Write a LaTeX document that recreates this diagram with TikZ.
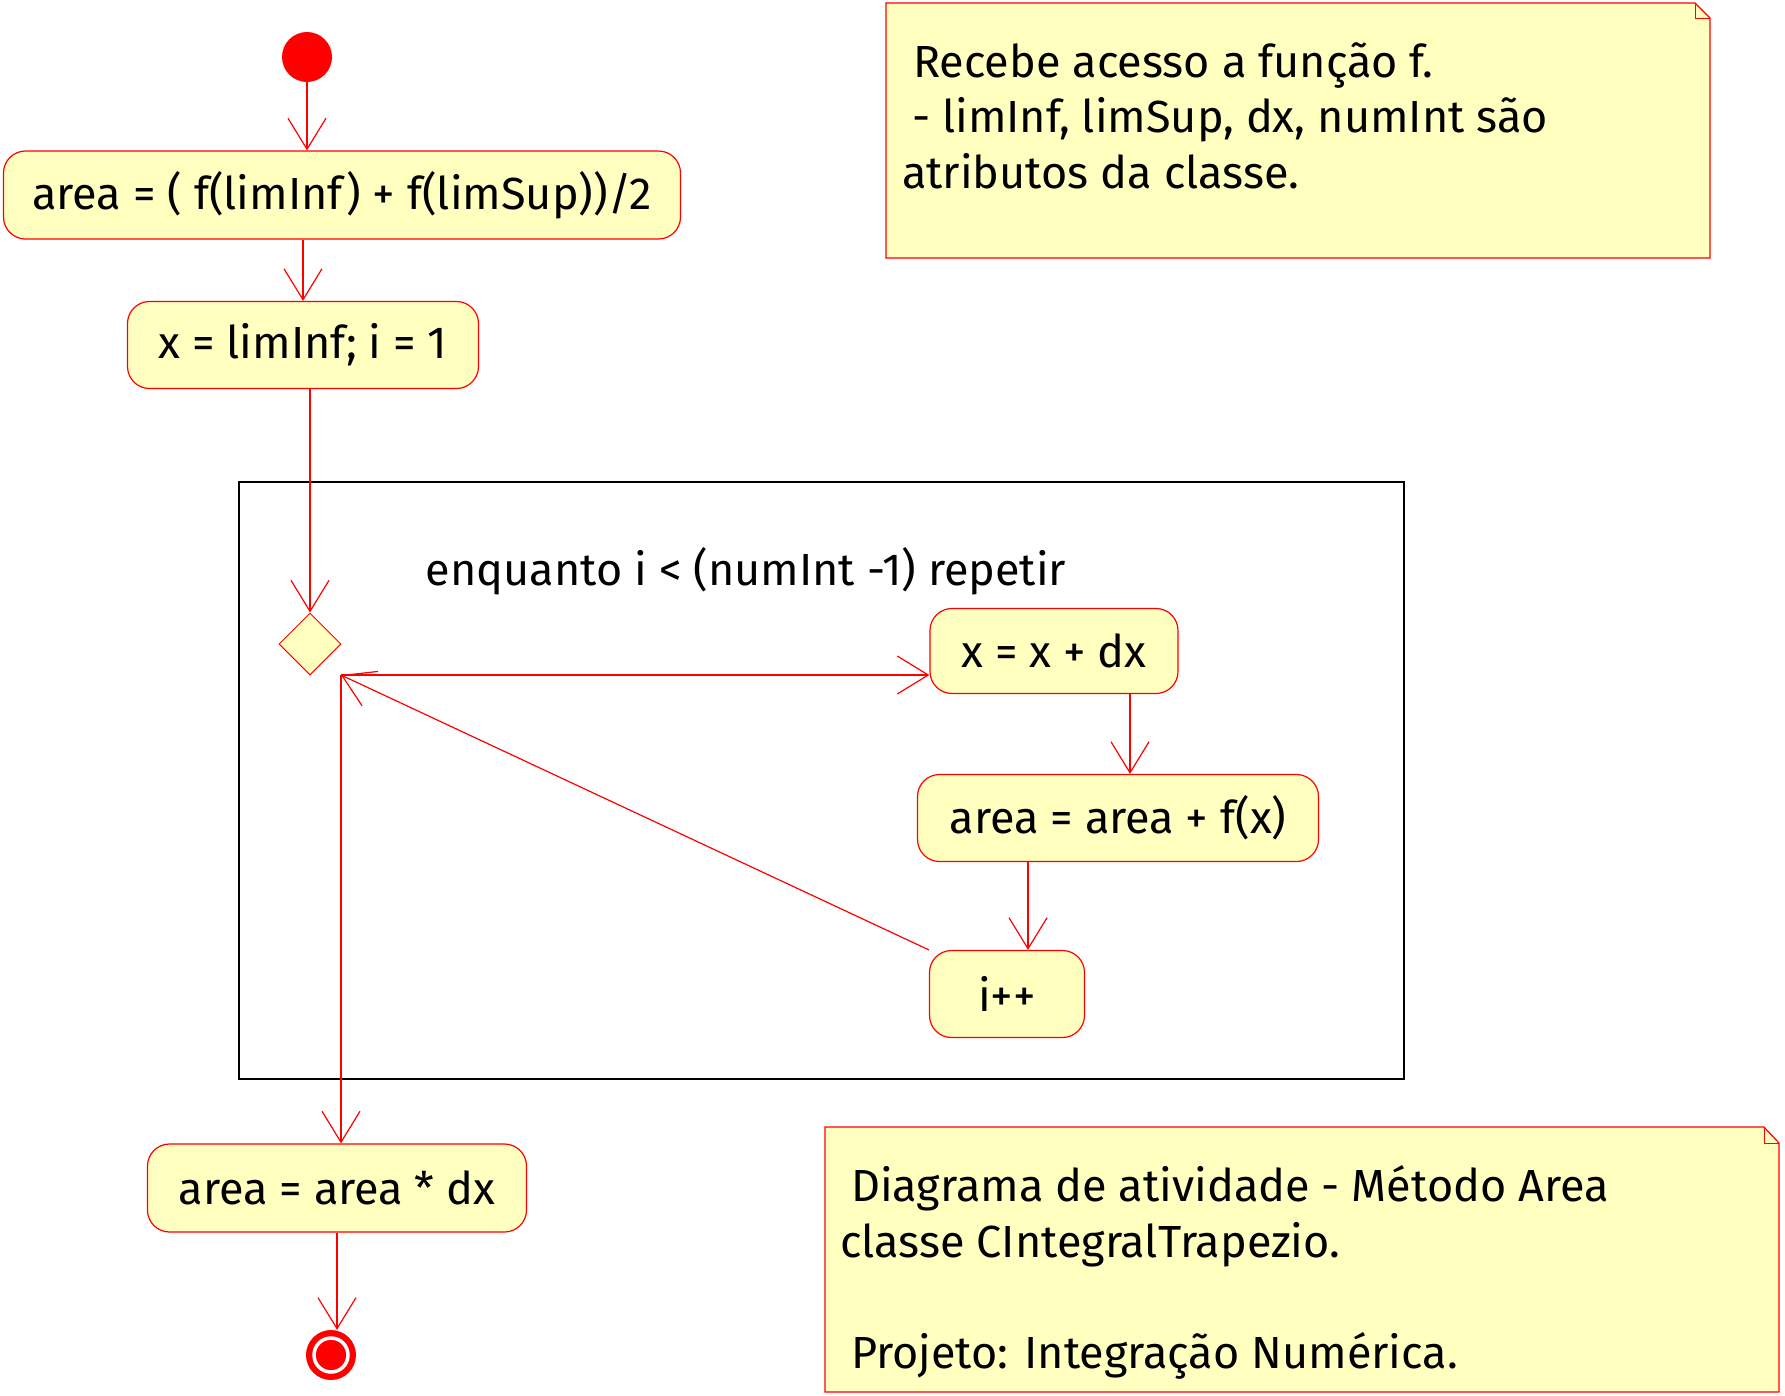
\documentclass[tikz,border=0pt]{standalone}
\usepackage{fontspec}
\setmainfont{Fira Sans}
\usetikzlibrary{arrows.meta,shapes.geometric}

\definecolor{notefill}{RGB}{255,255,192}

\tikzset{
  acao/.style={draw=red,fill=notefill,line width=1.2pt,rounded corners=22pt,
    inner sep=0pt,font=\fontsize{45}{54}\selectfont},
  fluxo/.style={draw=red,line width=1.2pt,-{Straight Barb[length=31pt,width=38pt]}},
  nota/.style={draw=red,fill=notefill,line width=1.2pt},
  texto/.style={inner sep=0pt,anchor=base west,font=\fontsize{45}{54}\selectfont},
}

\begin{document}
\begin{tikzpicture}[x=1pt,y=-1pt]
        \useasboundingbox (0,0) rectangle (1785,1395) ;
        %\draw[very thin,gray,step=100] (0,0) grid (1785,1395) ;
        % moldura do laco
        \draw[black,line width=1.2pt] (239,482) rectangle (1404,1079) ;
        \node[texto,anchor=base] (rotulo) at (746,585) {enquanto i < (numInt -1) repetir} ;

        % estados
        \node[circle,fill=red,minimum size=50pt,inner sep=0pt] (inicio) at (307,57) {} ;
        \node[acao,minimum width=677pt,minimum height=88pt] (ini) at (342,195)
        {area = ( f(limInf) + f(limSup))/2} ;
        \node[acao,minimum width=351pt,minimum height=87pt] (xinf) at (303,345)
        {x = limInf; i = 1} ;
        \node[diamond,draw=red,fill=notefill,line width=1pt,inner sep=0pt,
        minimum width=62pt,minimum height=62pt] (dec) at (310,644) {} ;
        \coordinate (juncao) at (341,675) ;
        \node[acao,minimum width=248pt,minimum height=85pt] (xdx) at (1054,651)
        {x = x + dx} ;
        \node[acao,minimum width=401pt,minimum height=87pt] (soma) at (1118,818)
        {area = area + f(x)} ;
        \node[acao,minimum width=155pt,minimum height=87pt] (incr) at (1007,994)
        {i++} ;
        \node[acao,minimum width=379pt,minimum height=88pt] (mult) at (337,1188)
        {area = area * dx} ;
        \node[circle,fill=red,minimum size=50pt,inner sep=0pt] (fim) at (331,1355) {} ;
        \draw[white,line width=3.5pt] (fim) circle (17pt) ;

        % transicoes
        \draw[fluxo] (inicio.south) -- (inicio.south |- ini.north) ;
        \draw[fluxo] (ini.south -| xinf.north) -- (xinf.north) ;
        \draw[fluxo] (xinf.south -| dec.north) -- (dec.north) ;
        \draw[fluxo] (juncao) -- (juncao -| xdx.west) ;
        \draw[fluxo] ([xshift=76pt]xdx.south) -- ([xshift=76pt]xdx.south |- soma.north) ;
        \draw[fluxo] ([xshift=-90pt]soma.south) -- ([xshift=-90pt]soma.south |- incr.north) ;
        \draw[fluxo] (incr.north west) -- (juncao) ;
        \draw[fluxo] (juncao) -- (juncao |- mult.north) ;
        \draw[fluxo] (mult.south) -- (mult.south |- fim.north) ;

        % notas
        \draw[nota] (886,3) -- (1695,3) -- (1710,18) -- (1710,258) -- (886,258) -- cycle ;
        \draw[red,line width=1pt] (1695,3) -- (1695,18) -- (1710,18) ;
        \node[texto] (n1a) at (913,77) {Recebe acesso a função f.} ;
        \node[texto] (n1b) at (912,132) {- limInf, limSup, dx, numInt são} ;
        \node[texto] (n1c) at (902,188) {atributos da classe.} ;

        \draw[nota] (825,1127) -- (1764,1127) -- (1779,1143) -- (1779,1392) -- (825,1392) -- cycle ;
        \draw[red,line width=1pt] (1764,1127) -- (1764,1143) -- (1779,1143) ;
        \node[texto] (n2a) at (851,1201) {Diagrama de atividade - Método Area} ;
        \node[texto] (n2b) at (840,1257) {classe CIntegralTrapezio.} ;
        \node[texto] (n2c) at (851,1368) {Projeto: Integração Numérica.} ;
      \end{tikzpicture}
\end{document}
